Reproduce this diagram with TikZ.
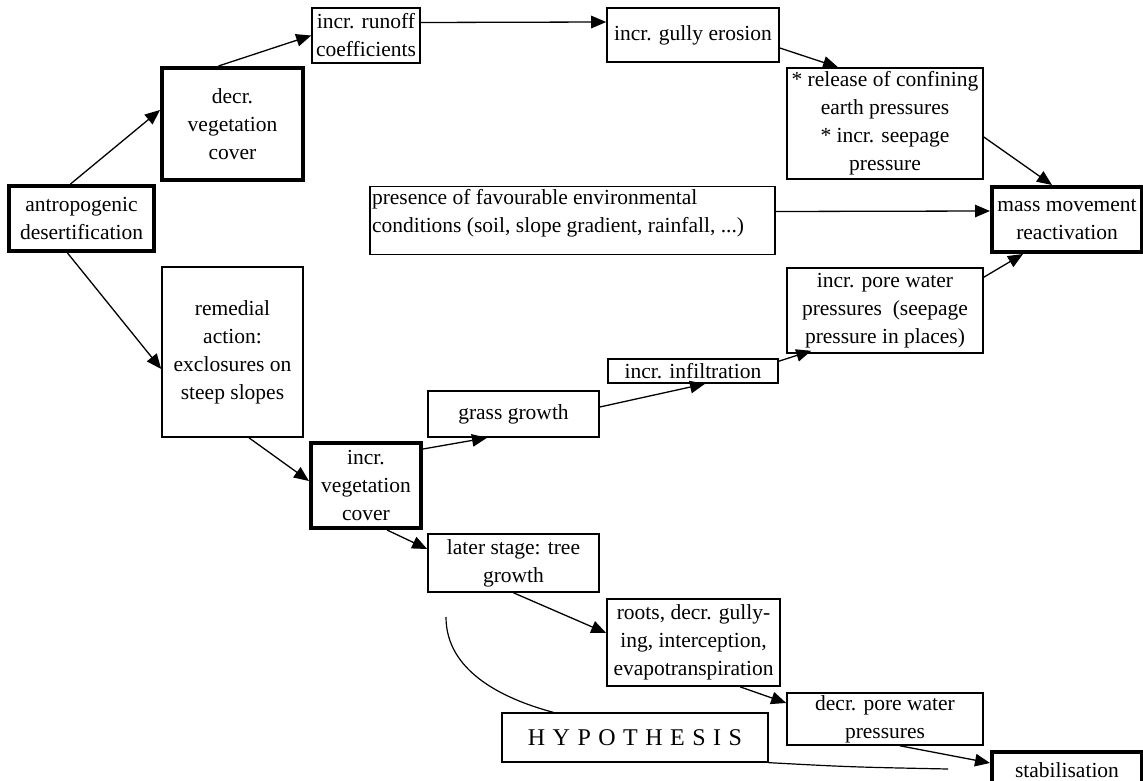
\documentclass[tikz,border=0pt]{standalone}
\usepackage{fontspec}
\setmainfont{Liberation Serif}
\usetikzlibrary{arrows.meta}

\begin{document}
\begin{tikzpicture}[x=1pt,y=-1pt,
    every node/.style={font=\fontsize{21.5}{28}\selectfont},
    box/.style={draw,line width=1.6pt,align=center,inner sep=0pt},
    keybox/.style={box,line width=4pt},
    flow/.style={line width=1.3pt,-{Triangle[length=15pt,width=12.5pt]}}]
   \useasboundingbox (0,0) rectangle (1143,781);
   \clip (0,0) rectangle (1143,781);

   % left part
   \node[keybox,minimum width=145,minimum height=65] (antro) at (81.5,218.5) {antropogenic\\desertification};
   \node[keybox,minimum width=141,minimum height=112] (decrveg) at (232.5,124) {decr.\\vegetation\\cover};
   \node[box,minimum width=141,minimum height=170] (remedial) at (232.5,352) {remedial\\action:\\exclosures on\\steep slopes};
   \node[keybox,minimum width=110,minimum height=85] (incrveg) at (366,485.5) {incr.\\vegetation\\cover};

   % upper branch
   \node[box,minimum width=108,minimum height=55] (runoff) at (366,35.5) {incr. runoff\\coefficients};
   \node[box,minimum width=172,minimum height=54] (gully) at (693,35) {incr. gully erosion};
   \node[box,minimum width=196,minimum height=111] (release) at (885,123.5) {* release of confining\\earth pressures\\* incr. seepage\\pressure};
   \node[keybox,minimum width=150,minimum height=65] (mass) at (1067,219.5) {mass movement\\reactivation};
   \node[box,inner xsep=2pt,inner ysep=2.5pt] (env) at (572.5,220.5)
        {\parbox[c][63pt][t]{401pt}{presence of favourable environmental\\conditions (soil, slope gradient, rainfall, ...)}};

   % lower branch
   \node[box,minimum width=171,minimum height=46] (grass) at (513.5,414) {grass growth};
   \node[box,minimum width=170,minimum height=24] (infil) at (693,371) {incr. infiltration};
   \node[box,minimum width=196,minimum height=85] (porew) at (885,310.5) {incr. pore water\\pressures\ \ (seepage\\pressure in places)};
   \node[box,minimum width=171,minimum height=58] (later) at (513.5,563) {later stage: tree\\growth};
   \node[box,minimum width=173,minimum height=87] (roots) at (693.5,642.5) {roots, decr. gully-\\ing, interception,\\evapotranspiration};
   \node[box,minimum width=196,minimum height=52] (decrpore) at (885,719) {decr. pore water\\pressures};
   \node[keybox,minimum width=150,minimum height=36] (stab) at (1067,770) {stabilisation};
   \node[box,line width=1.3pt,minimum width=266,minimum height=49,font=\fontsize{24}{28}\selectfont] (hyp) at (635,737.5)
        {\spaceskip=7.5pt H Y P O T H E S I S};

   % arrows
   \draw[flow] ([xshift=-11pt]antro.north) -- ([yshift=14pt]decrveg.west);
   \draw[flow] ([xshift=-14pt]antro.south) -- ([yshift=-17pt]remedial.west);
   \draw[flow] ([xshift=-14pt]decrveg.north) -- (runoff.west);
   \draw[flow] ([yshift=13pt]runoff.east) -- ([yshift=13pt]gully.west);
   \draw[flow] ([yshift=-13pt]gully.east) -- ([xshift=-47pt]release.north);
   \draw[flow] ([yshift=-13.5pt]release.east) -- ([xshift=-15pt]mass.north);
   \draw[flow] ([yshift=9pt]env.east) -- ([yshift=8.5pt]mass.west);
   \draw[flow] ([yshift=-10pt]porew.north east) -- ([xshift=-44pt]mass.south);
   \draw[flow] ([yshift=-3pt]infil.north east) -- ([xshift=25pt,yshift=3pt]porew.south west);
   \draw[flow] ([yshift=7pt]grass.east) -- ([xshift=12pt]infil.south);
   \draw[flow] ([yshift=-8pt]incrveg.north east) -- ([xshift=-26.5pt]grass.south);
   \draw[flow] ([xshift=16.5pt]remedial.south) -- ([yshift=4.5pt]incrveg.west);
   \draw[flow] ([xshift=21pt]incrveg.south) -- ([yshift=14pt]later.west);
   \draw[flow] (later.south) -- ([yshift=9.5pt]roots.west);
   \draw[flow] ([xshift=46.5pt]roots.south) -- ([yshift=16pt]decrpore.west);
   \draw[flow] ([xshift=15pt]decrpore.south) -- ([yshift=7pt]stab.west);

   % hypothesis brace lines
   \coordinate (hypstart) at (446,617);
   \coordinate (hypend) at (948,769);
   \draw[line width=1.2pt] (hypstart) .. controls (446,670) and (500,698) .. ([xshift=52pt]hyp.north west);
   \draw[line width=1.2pt] (hyp.south east) .. controls (850,767) .. (hypend);
\end{tikzpicture}
\end{document}
